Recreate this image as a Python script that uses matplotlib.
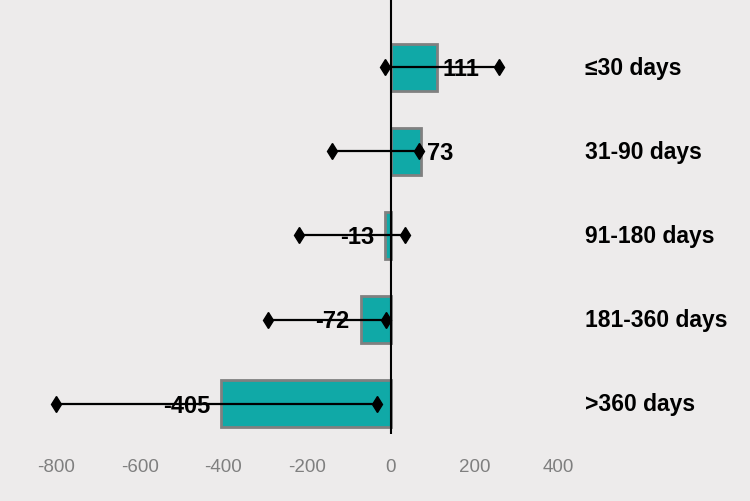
import matplotlib
matplotlib.use('Agg')
import matplotlib.pyplot as plt
import numpy as np

plt.rcParams['font.family'] = ['Liberation Sans', 'DejaVu Sans']

# 数据
categories = ['≤30 days', '31-90 days', '91-180 days', '181-360 days', '>360 days']
values = [111, 73, -13, -72, -405]
ci_low = [-14, -141, -220, -294, -800]
ci_high = [258, 67, 33, -12, -33]
xticks = [-800, -600, -400, -200, 0, 200, 400]

bg = '#EDEBEB'
teal = '#10A9A7'

fig = plt.figure(figsize=(7.5, 5.02), dpi=100, facecolor=bg)
ax = fig.add_axes([0.0187, 0.1335, 0.949, 0.8665], facecolor=bg)

y = np.arange(len(categories))[::-1]

ax.barh(y, values, height=0.56, color=teal, edgecolor='#808080', linewidth=2, zorder=2)

# 误差线
for i in range(len(categories)):
    ax.plot([ci_low[i], ci_high[i]], [y[i], y[i]], color='black', lw=1.6,
            marker='d', markersize=8.5, zorder=4)

# 数据标签
for i in range(len(categories)):
    v = values[i]
    if v >= 0:
        ax.annotate('%d' % v, (v, y[i]), xytext=(4, -1), textcoords='offset points',
                    ha='left', va='center', fontsize=17, fontweight='bold', zorder=5)
    else:
        ax.annotate('%d' % v, (v, y[i]), xytext=(-8, -1), textcoords='offset points',
                    ha='right', va='center', fontsize=17, fontweight='bold', zorder=5)

# 类别标签
trans = matplotlib.transforms.blended_transform_factory(ax.transAxes, ax.transData)
for i in range(len(categories)):
    ax.text(0.802, y[i], categories[i], transform=trans, ha='left', va='center',
            fontsize=16.5, fontweight='bold')

ax.axvline(0, color='black', lw=1.5, zorder=3)

ax.set_xlim(-900, 800)
ax.set_ylim(-0.36, 4.81)
ax.set_xticks(xticks)
ax.set_xticklabels([str(t) for t in xticks], color='#7F7F7F', fontsize=13.5)
ax.tick_params(axis='x', length=0, pad=17)
ax.set_yticks([])
for s in ax.spines.values():
    s.set_visible(False)

plt.savefig('out.png', dpi=100, facecolor=bg)
